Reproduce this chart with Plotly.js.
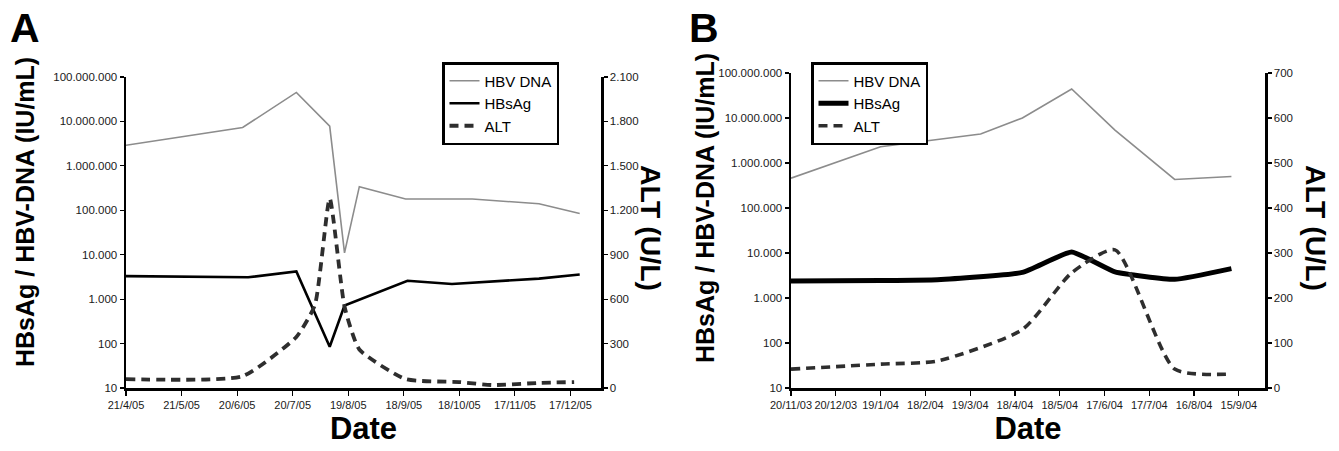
<!DOCTYPE html>
<html>
<head>
<meta charset="utf-8">
<script src="https://cdn.plot.ly/plotly-3.0.1.min.js"></script>
<style>
  html, body { margin: 0; padding: 0; background: #fff; }
  #chart { width: 1339px; height: 451px; }
</style>
</head>
<body>
<div id="chart"></div>
<script>
// ---------- Panel A data ----------
const datesA_dna = ['2005-04-21','2005-06-23','2005-07-22','2005-08-09','2005-08-17','2005-08-25','2005-09-19','2005-10-25','2005-11-30','2005-12-22'];
const dnaA = [2900000, 7300000, 45000000, 7800000, 11000, 340000, 180000, 180000, 140000, 85000];

const datesA_hbs = ['2005-04-21','2005-06-26','2005-07-22','2005-08-09','2005-08-17','2005-09-20','2005-10-14','2005-11-30','2005-12-22'];
const hbsA = [3300, 3100, 4200, 85, 720, 2600, 2200, 2900, 3600];

const datesA_alt = ['2005-04-21','2005-06-23','2005-07-22','2005-08-01','2005-08-09','2005-08-17','2005-08-25','2005-09-19','2005-10-18','2005-11-05','2005-12-01','2005-12-19'];
const altA = [60, 80, 345, 560, 1280, 550, 260, 60, 40, 20, 35, 40];

// ---------- Panel B data ----------
const datesB_dna = ['2003-11-20','2004-01-19','2004-03-26','2004-04-23','2004-05-26','2004-06-24','2004-08-03','2004-09-10'];
const dnaB = [460000, 2300000, 4400000, 10000000, 44000000, 5400000, 430000, 500000];

const datesB_hbs = ['2003-11-20','2004-01-19','2004-02-26','2004-04-23','2004-05-26','2004-06-24','2004-08-03','2004-09-10'];
const hbsB = [2400, 2450, 2550, 3700, 10500, 3800, 2600, 4500];

const datesB_alt = ['2003-11-20','2004-01-19','2004-02-26','2004-04-23','2004-05-26','2004-06-24','2004-08-03','2004-09-10'];
const altB = [42, 53, 60, 130, 256, 307, 42, 31];

// ---------- Axis labels ----------
const seriesNames = ['HBV DNA', 'HBsAg', 'ALT'];
const logTicks = [10, 100, 1000, 10000, 100000, 1000000, 10000000, 100000000];
const altTicksA = [0, 300, 600, 900, 1200, 1500, 1800, 2100];
const altTicksB = [0, 100, 200, 300, 400, 500, 600, 700];
const leftTitle = 'HBsAg / HBV-DNA (IU/mL)';
const rightTitle = 'ALT (U/L)';
const xTitle = 'Date';
const panelLabels = ['A', 'B'];

const FONT = 'Arial, "Liberation Sans", Helvetica, sans-serif';
const W = 1339, H = 451;
const px = v => v / W;
const py = v => (H - v) / H;
const DAY = 86400000;

const gray = '#8c8c8c';
const dark = '#2e2e2e';

const traces = [
  { x: datesA_dna, y: dnaA, name: seriesNames[0], type: 'scatter', mode: 'lines',
    xaxis: 'x', yaxis: 'y', legend: 'legend', line: { color: gray, width: 1.6 } },
  { x: datesA_hbs, y: hbsA, name: seriesNames[1], type: 'scatter', mode: 'lines',
    xaxis: 'x', yaxis: 'y', legend: 'legend', line: { color: '#000', width: 2.6 } },
  { x: datesA_alt, y: altA, name: seriesNames[2], type: 'scatter', mode: 'lines',
    xaxis: 'x', yaxis: 'y2', legend: 'legend', line: { color: dark, width: 3.8, dash: '9px,6px', shape: 'spline', smoothing: 0.5 } },

  { x: datesB_dna, y: dnaB, name: seriesNames[0], type: 'scatter', mode: 'lines',
    xaxis: 'x2', yaxis: 'y3', legend: 'legend2', line: { color: gray, width: 1.6 } },
  { x: datesB_hbs, y: hbsB, name: seriesNames[1], type: 'scatter', mode: 'lines',
    xaxis: 'x2', yaxis: 'y3', legend: 'legend2', line: { color: '#000', width: 5, shape: 'spline', smoothing: 0.4 } },
  { x: datesB_alt, y: altB, name: seriesNames[2], type: 'scatter', mode: 'lines',
    xaxis: 'x2', yaxis: 'y4', legend: 'legend2', line: { color: dark, width: 3.6, dash: '9px,6px', shape: 'spline', smoothing: 0.6 } }
];

const tickFont = { family: FONT, size: 11.5, color: '#1a1a1a' };
const xTickFont = { family: FONT, size: 11, color: '#1a1a1a' };

function xAxis(domain, range, tick0, anchor) {
  return {
    domain, range, type: 'date', anchor,
    tick0, dtick: 30 * DAY, tickformat: '%-d/%-m/%y', tickangle: 0,
    showline: true, linewidth: 2.5, linecolor: '#000',
    ticks: 'outside', ticklen: 5, tickwidth: 1.2, tickcolor: '#000',
    showgrid: false, zeroline: false, tickfont: xTickFont,
    title: { text: '<b>' + xTitle + '</b>', font: { family: FONT, size: 31, color: '#000' }, standoff: 4 }
  };
}
function logAxis(domain, anchor) {
  return {
    domain, anchor, type: 'log', range: [1, 8],
    tickvals: logTicks, tickformat: ',.0f',
    showline: true, linewidth: 2.5, linecolor: '#000',
    ticks: 'outside', ticklen: 4, tickwidth: 1.2, tickcolor: '#000',
    showgrid: false, zeroline: false, tickfont: tickFont
  };
}
function altAxis(overlay, anchor, ticks) {
  return {
    overlaying: overlay, anchor, side: 'right',
    range: [0, ticks[ticks.length - 1]], tickvals: ticks, tickformat: ',.0f',
    showline: true, linewidth: 2.5, linecolor: '#000',
    ticks: 'outside', ticklen: 4, tickwidth: 1.2, tickcolor: '#000',
    showgrid: false, zeroline: false, tickfont: tickFont
  };
}

const legendStyle = (x) => ({
  x: px(x), y: py(62), xanchor: 'left', yanchor: 'top',
  bgcolor: '#fff', bordercolor: '#000', borderwidth: 2.5,
  font: { family: FONT, size: 15, color: '#000' }, tracegroupgap: 0
});

function ann(text, x, y, size, angle) {
  return { text: '<b>' + text + '</b>', x: px(x), y: py(y), xref: 'paper', yref: 'paper',
    xanchor: 'center', yanchor: 'middle', showarrow: false, textangle: angle || 0,
    font: { family: FONT, size, color: '#000' } };
}

const layout = {
  width: W, height: H,
  margin: { l: 0, r: 0, t: 0, b: 0 },
  paper_bgcolor: '#fff', plot_bgcolor: '#fff',
  separators: ',.',
  font: { family: FONT, color: '#000' },
  xaxis: xAxis([px(126), px(601)], ['2005-04-21', '2006-01-02 12:00'], '2005-04-21', 'y'),
  yaxis: logAxis([py(388), py(77)], 'x'),
  yaxis2: altAxis('y', 'x', altTicksA),
  xaxis2: xAxis([px(791), px(1265)], ['2003-11-20', '2004-10-02 12:00'], '2003-11-20', 'y3'),
  yaxis3: logAxis([py(388), py(73)], 'x2'),
  yaxis4: altAxis('y3', 'x2', altTicksB),
  legend: legendStyle(442),
  legend2: legendStyle(811),
  showlegend: true,
  annotations: [
    ann(panelLabels[0], 25, 28, 41),
    ann(panelLabels[1], 704, 28, 41),
    ann(leftTitle, 25, 212, 25, -90),
    ann(leftTitle, 705, 208, 25, -90),
    ann(rightTitle, 651, 228, 28.5, 90),
    ann(rightTitle, 1316, 228, 28.5, 90)
  ]
};

Plotly.newPlot('chart', traces, layout, { staticPlot: true, displayModeBar: false });
</script>
</body>
</html>
